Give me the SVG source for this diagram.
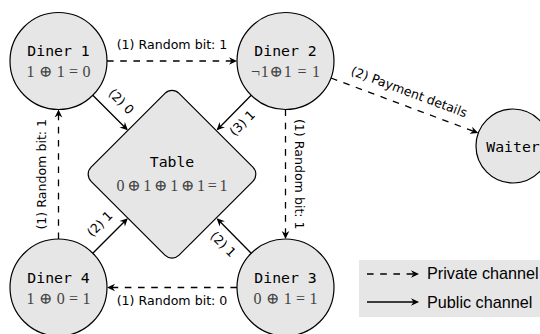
<svg xmlns="http://www.w3.org/2000/svg" width="540" height="334" viewBox="0 0 540 334">
<style>
.node{fill:#e6e6e6;stroke:#000;stroke-width:1.2}
.name{font-family:"DejaVu Sans Mono","Liberation Mono",monospace;font-size:14.8px;fill:#000;text-anchor:middle}
.math{font-family:"Liberation Serif","DejaVu Serif",serif;font-size:16px;fill:#444;text-anchor:middle}
.lbl{font-family:"DejaVu Sans","Liberation Sans",sans-serif;font-size:12.6px;fill:#000;text-anchor:middle}
.leg{font-family:"Liberation Sans","DejaVu Sans",sans-serif;font-size:16.2px;fill:#000}
.pub{fill:none;stroke:#000;stroke-width:1.3;marker-end:url(#ah)}
.prv{fill:none;stroke:#000;stroke-width:1.3;stroke-dasharray:6.6 6.6;marker-end:url(#ah)}
</style>
<defs>
<marker id="ah" markerUnits="userSpaceOnUse" viewBox="-9 -5 12 10" markerWidth="12" markerHeight="10" refX="0" refY="0" orient="auto">
<path d="M1.5,0 L-6.5,-3.8 L-4,0 L-6.5,3.8 Z" fill="#000"/>
</marker>
</defs>
<g id="table">
<rect class="node" x="-62.2" y="-62.2" width="124.4" height="124.4" rx="10" transform="translate(172,174.25) rotate(45)"/>
<text class="name" x="172" y="166.7">Table</text>
<text class="math" x="172" y="190.5" textLength="111" lengthAdjust="spacing">0 ⊕ 1 ⊕ 1 ⊕ 1 = 1</text>
</g>
<g id="diner1">
<circle class="node" cx="58.5" cy="61" r="48.5"/>
<text class="name" x="58.5" y="56">Diner 1</text>
<text class="math" x="58.5" y="77" textLength="64" lengthAdjust="spacing">1 ⊕ 1 = 0</text>
</g>
<g id="diner2">
<circle class="node" cx="285.5" cy="61" r="48.5"/>
<text class="name" x="285.5" y="56">Diner 2</text>
<text class="math" x="285.5" y="77" textLength="69" lengthAdjust="spacing">¬1⊕1 = 1</text>
</g>
<g id="diner3">
<circle class="node" cx="285.5" cy="287.5" r="48.5"/>
<text class="name" x="285.5" y="282.5">Diner 3</text>
<text class="math" x="285.5" y="303.5" textLength="64" lengthAdjust="spacing">0 ⊕ 1 = 1</text>
</g>
<g id="diner4">
<circle class="node" cx="58.5" cy="287.5" r="48.5"/>
<text class="name" x="58.5" y="282.5">Diner 4</text>
<text class="math" x="58.5" y="303.5" textLength="64" lengthAdjust="spacing">1 ⊕ 0 = 1</text>
</g>
<g id="waiter">
<circle class="node" cx="513" cy="146" r="37"/>
<text class="name" x="513" y="151.5">Waiter</text>
</g>
<g id="connectors">
<line class="prv" x1="107" y1="61" x2="235.5" y2="61"/>
<line class="prv" x1="285.5" y1="109.5" x2="285.5" y2="237.5"/>
<line class="prv" x1="237" y1="287.5" x2="108.5" y2="287.5"/>
<line class="prv" x1="58.5" y1="239" x2="58.5" y2="111"/>
<line class="prv" x1="331" y1="78" x2="476.9" y2="132.5"/>
<line class="pub" x1="92.8" y1="95.3" x2="126.8" y2="129.3"/>
<line class="pub" x1="251.2" y1="95.3" x2="217.7" y2="129.3"/>
<line class="pub" x1="92.8" y1="253.2" x2="126.8" y2="219.2"/>
<line class="pub" x1="251.2" y1="253.2" x2="217.7" y2="219.2"/>
<text class="lbl" x="172" y="49">(1) Random bit: 1</text>
<text class="lbl" transform="translate(295,174.25) rotate(90)">(1) Random bit: 1</text>
<text class="lbl" x="172" y="304.5">(1) Random bit: 0</text>
<text class="lbl" transform="translate(46,174.25) rotate(-90)">(1) Random bit: 1</text>
<text class="lbl" transform="translate(407.5,96) rotate(20.5)">(2) Payment details</text>
<text class="lbl" transform="translate(118.2,104.5) rotate(45)">(2) 0</text>
<text class="lbl" transform="translate(245.3,126.1) rotate(-45)">(3) 1</text>
<text class="lbl" transform="translate(102.9,227) rotate(-45)">(2) 1</text>
<text class="lbl" transform="translate(220.1,247.3) rotate(45)">(2) 1</text>
</g>
<g id="legend">
<rect x="359" y="260" width="190" height="57" fill="#e6e6e6"/>
<line class="prv" x1="367" y1="274" x2="417.5" y2="274"/>
<line class="pub" x1="367" y1="302" x2="417.5" y2="302"/>
<text class="leg" x="427" y="279">Private channel</text>
<text class="leg" x="427" y="308">Public channel</text>
</g>
</svg>
